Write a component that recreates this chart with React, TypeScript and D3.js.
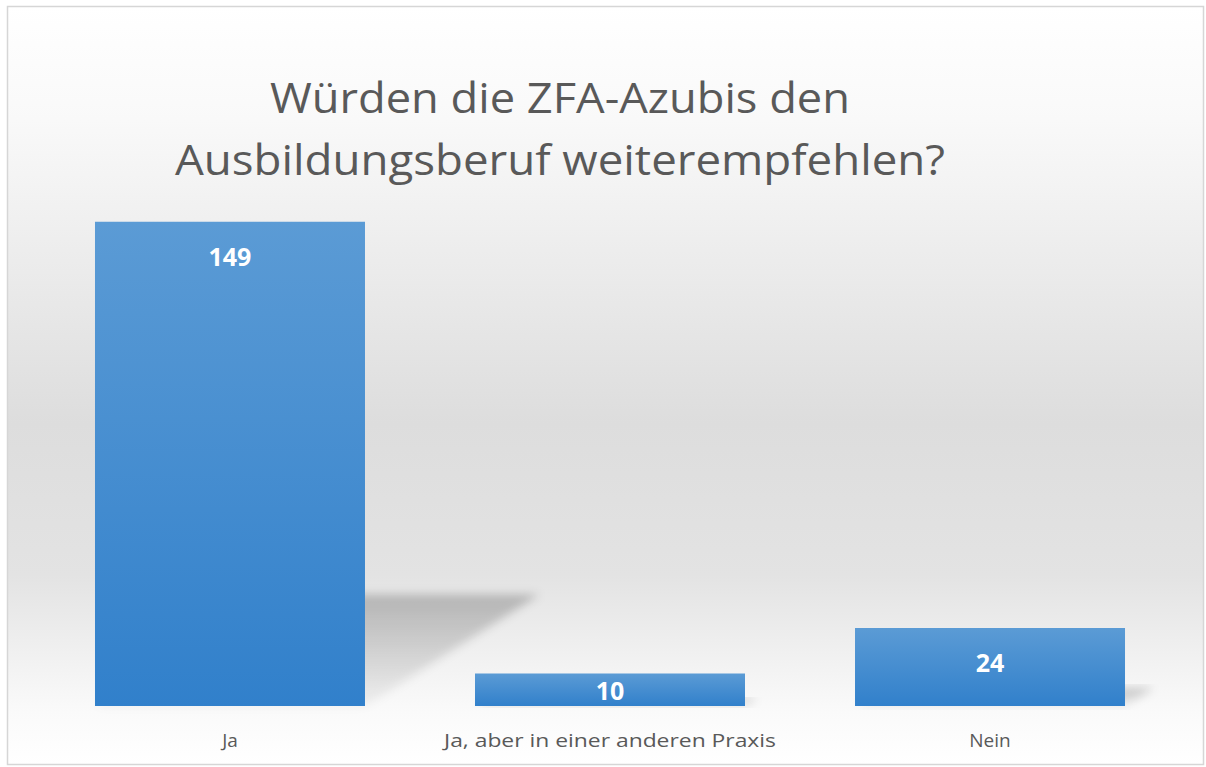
import React from "react";
import * as d3 from "d3";

const categories = ["Ja", "Ja, aber in einer anderen Praxis", "Nein"];
const values = [149, 10, 24];
const titleLines = ["Würden die ZFA-Azubis den", "Ausbildungsberuf weiterempfehlen?"];

const W = 1206;
const H = 767;
const FONT = "'Open Sans', 'Noto Sans', sans-serif";

export default function App() {
  const x = d3.scaleBand<string>().domain(categories).range([40, 1180]).paddingInner(0.2895).paddingOuter(0.1447);
  const y = d3.scaleLinear().domain([0, 160]).range([706, 186]);
  const base = y(0);

  return (
    <svg width={W} height={H} style={{ position: "absolute", left: 0, top: 0 }}>
      <defs>
        <linearGradient id="bg" x1="0" y1="0" x2="0" y2="1">
          <stop offset="0" stopColor="#ffffff" />
          <stop offset="0.15" stopColor="#f9f9f9" />
          <stop offset="0.55" stopColor="#dddddd" />
          <stop offset="0.75" stopColor="#e3e3e3" />
          <stop offset="0.93" stopColor="#fafafa" />
          <stop offset="1" stopColor="#ffffff" />
        </linearGradient>
        <linearGradient id="bar" x1="0" y1="0" x2="0" y2="1">
          <stop offset="0" stopColor="#5b9bd5" />
          <stop offset="1" stopColor="#3180cb" />
        </linearGradient>
        <linearGradient id="shadow" x1="0" y1="0" x2="0" y2="1">
          <stop offset="0" stopColor="#000" stopOpacity="0.22" />
          <stop offset="1" stopColor="#000" stopOpacity="0.04" />
        </linearGradient>
        <filter id="blur" x="-20%" y="-20%" width="140%" height="140%">
          <feGaussianBlur stdDeviation="5" />
        </filter>
      </defs>
      <rect x={7.5} y={6.5} width={1196} height={758} fill="url(#bg)" stroke="#d6d6d6" strokeWidth={1.5} />

      {titleLines.map((t, i) => (
        <text
          key={i}
          x={560}
          y={113 + i * 62}
          textAnchor="middle"
          fontFamily={FONT}
          fontSize={42}
          fill="#595959"
          textLength={i === 0 ? 580 : 770}
          lengthAdjust="spacingAndGlyphs"
        >
          {t}
        </text>
      ))}

      {/* perspective shadows */}
      {categories.map((c, i) => {
        const x0 = x(c)!;
        const x1 = x0 + x.bandwidth();
        const h = base - y(values[i]);
        const dy = h * 0.23;
        const dx = h * 0.36;
        const pts = [
          [x0, base],
          [x1, base],
          [x1 + dx, base - dy],
          [x0 + dx, base - dy],
        ];
        return (
          <polygon
            key={"s" + i}
            points={pts.map((p) => p.join(",")).join(" ")}
            fill="url(#shadow)"
            filter="url(#blur)"
          />
        );
      })}

      {categories.map((c, i) => (
        <rect
          key={"b" + i}
          x={x(c)}
          y={y(values[i])}
          width={x.bandwidth()}
          height={base - y(values[i])}
          fill="url(#bar)"
        />
      ))}

      {categories.map((c, i) => {
        const top = y(values[i]);
        const by = Math.min(top + 44, base - 6);
        return (
          <text
            key={"v" + i}
            x={x(c)! + x.bandwidth() / 2}
            y={by}
            textAnchor="middle"
            fontFamily={FONT}
            fontWeight="bold"
            fontSize={25}
            fill="#ffffff"
          >
            {values[i]}
          </text>
        );
      })}

      {categories.map((c, i) => (
        <text
          key={"c" + i}
          x={x(c)! + x.bandwidth() / 2}
          y={747}
          textAnchor="middle"
          fontFamily={FONT}
          fontSize={19}
          fill="#595959"
          textLength={i === 1 ? 332 : undefined}
          lengthAdjust="spacingAndGlyphs"
        >
          {c}
        </text>
      ))}
    </svg>
  );
}
